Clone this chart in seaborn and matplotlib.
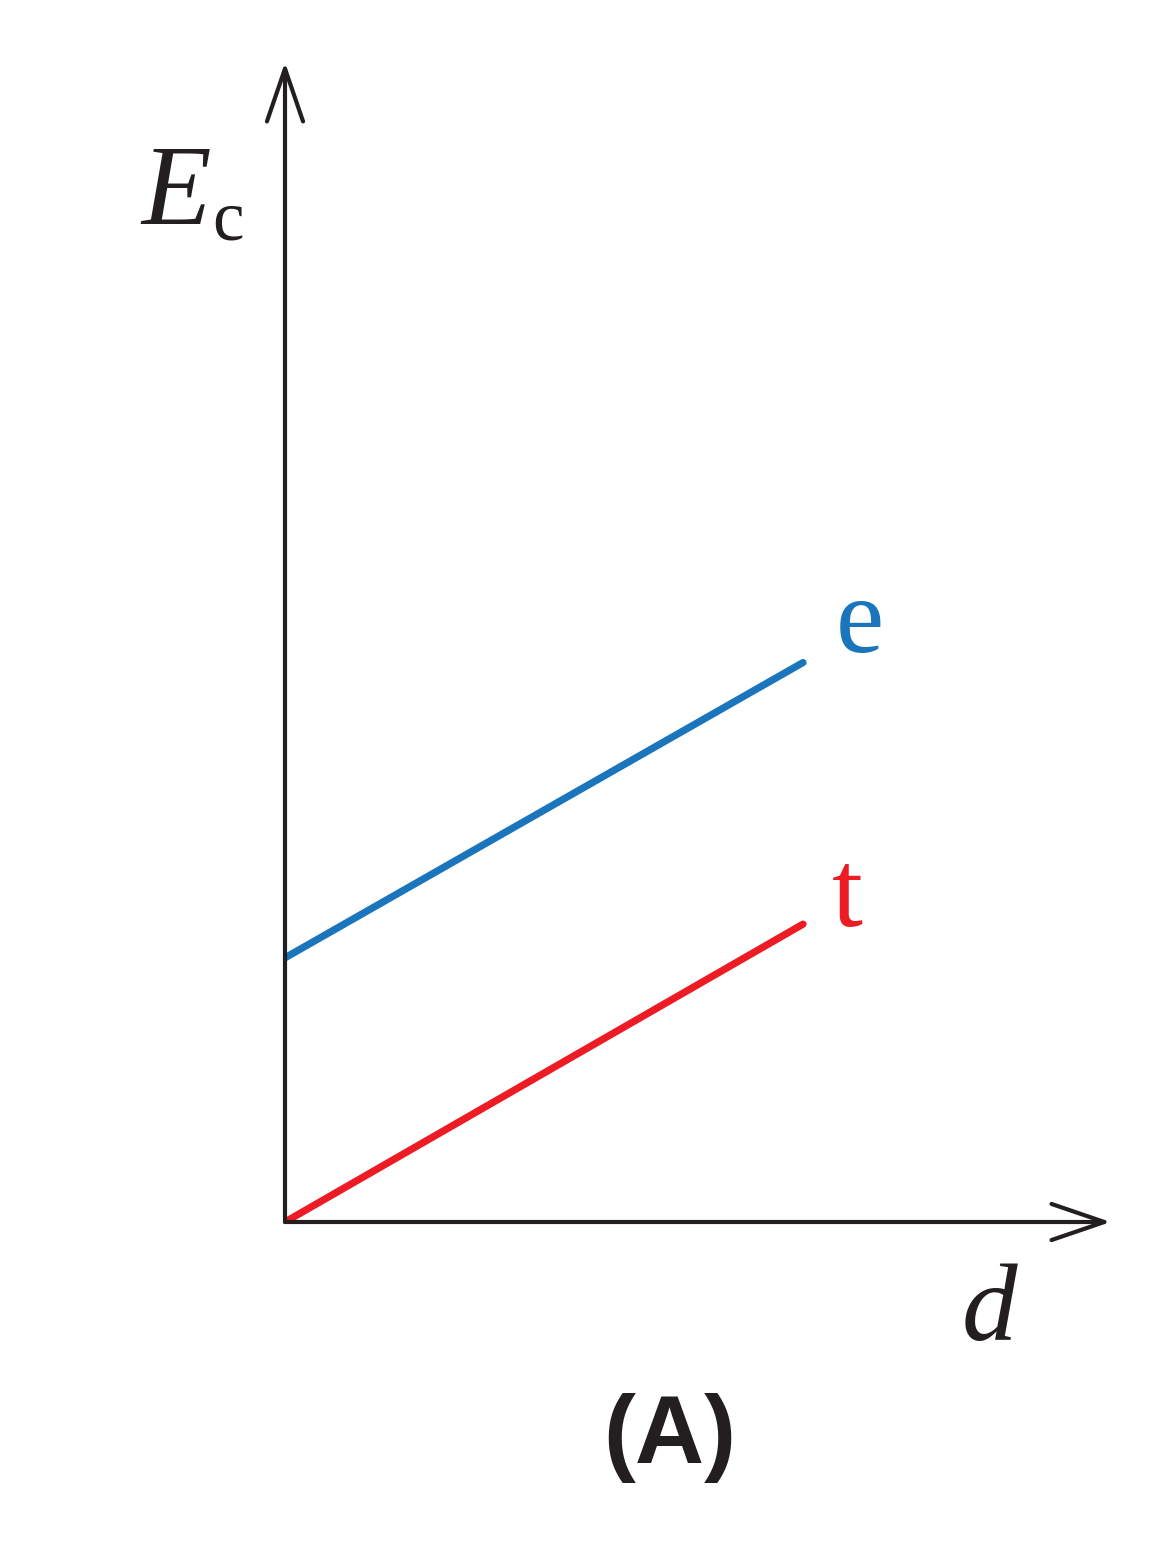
import numpy as np
import pandas as pd
import seaborn as sns
import matplotlib.pyplot as plt
from matplotlib.patches import ArrowStyle

## Data for the two lines (d on x, Ec on y)
d_vals = [0.0, 1.0]
e_vals = [0.51, 1.08]
t_vals = [0.0, 0.575]

blue = '#1a75bc'
red = '#ed1c24'
ink = '#231f20'

sns.set_style('white')
plt.rcParams['font.family'] = ['Liberation Serif', 'DejaVu Serif']

fig = plt.figure(figsize=(11.5, 15.5), dpi=100)
ax = fig.add_axes([285 / 1150, 328 / 1550, 820 / 1150, 1154 / 1550])

df = pd.DataFrame({'d': d_vals + d_vals,
                   'Ec': e_vals + t_vals,
                   'line': ['e', 'e', 't', 't']})
sns.lineplot(data=df, x='d', y='Ec', hue='line', palette=[blue, red],
             linewidth=5.2, ax=ax, legend=False, solid_capstyle='round')

ax.set_xlim(0, 820 / 518)
ax.set_ylim(0, 1154 / 518)
ax.set_axis_off()

## Axis arrows with open heads
head = ArrowStyle('->', head_length=38, head_width=13)
for end in [(1.007, 0), (0, 1.005)]:
    ax.annotate('', xy=end, xytext=(0, 0), xycoords='axes fraction',
                textcoords='axes fraction',
                arrowprops=dict(arrowstyle=head, mutation_scale=1, color=ink,
                                lw=3.0, shrinkA=0, shrinkB=0),
                annotation_clip=False)

## Labels
ax.text(1.11, 1.10, 'e', color=blue, fontsize=78, ha='center', va='baseline')
ax.text(1.085, 0.571, 't', color=red, fontsize=80, ha='center', va='baseline')
ax.text(1.36, -0.228, 'd', color=ink, fontsize=80, style='italic',
        ha='center', va='baseline', clip_on=False)
ax.text(-0.278, 1.927, 'E', color=ink, fontsize=82, style='italic',
        ha='left', va='baseline', clip_on=False)
ax.text(-0.141, 1.896, 'c', color=ink, fontsize=51,
        ha='left', va='baseline', clip_on=False)
ax.text(0.743, -0.465, '(A)', color=ink, fontsize=69, weight='bold',
        family=['Liberation Sans', 'DejaVu Sans'],
        ha='center', va='baseline', clip_on=False)

fig.savefig('out.png', dpi=100, facecolor='white')
